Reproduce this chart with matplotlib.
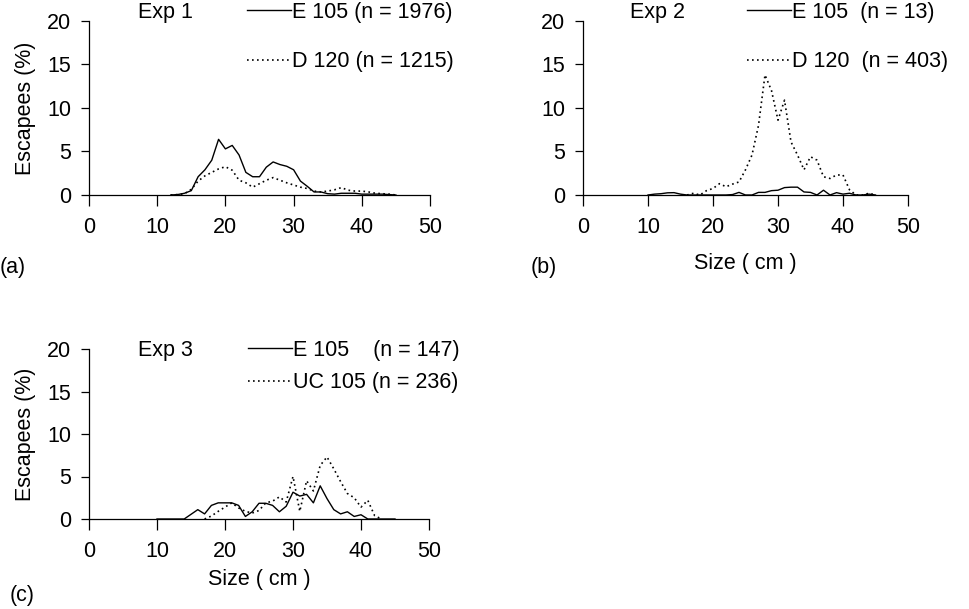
import matplotlib
matplotlib.use("Agg")
import matplotlib.pyplot as plt

plt.rcParams['font.family'] = ['Liberation Sans', 'DejaVu Sans']
plt.rcParams['font.size'] = 15.5

# size classes (cm) and escapee percentages per experiment
size_exp1 = list(range(12, 46))
exp1_e105 = [0, 0.05, 0.2, 0.5, 2.1, 2.9, 4.0, 6.4, 5.3, 5.7, 4.6, 2.6, 2.1, 2.1,
             3.2, 3.8, 3.5, 3.3, 2.9, 1.6, 1.0, 0.35, 0.35, 0.15, 0.1, 0.2, 0.2,
             0.2, 0.1, 0.1, 0.1, 0.1, 0.05, 0]
exp1_d120 = [0, 0.05, 0.15, 0.65, 1.6, 2.2, 2.6, 3.0, 3.25, 2.85, 1.7, 1.4, 0.9,
             1.3, 1.7, 2.0, 1.7, 1.4, 1.15, 0.9, 0.75, 0.45, 0.35, 0.45, 0.6,
             0.85, 0.55, 0.45, 0.45, 0.35, 0.2, 0.15, 0.1, 0]

size_exp2_e = list(range(10, 46))
exp2_e105 = [0, 0.1, 0.15, 0.25, 0.27, 0.1, 0, 0, 0, 0, 0, 0, 0, 0.05, 0.3, 0,
             0, 0.3, 0.3, 0.5, 0.55, 0.85, 0.9, 0.9, 0.35, 0.3, 0, 0.55, 0,
             0.27, 0.1, 0.2, 0, 0, 0.1, 0]
size_exp2_d = list(range(16, 46))
exp2_d120 = [0, 0.2, 0, 0.5, 0.75, 1.3, 0.95, 1.25, 1.5, 2.9, 4.6, 8.0, 13.8,
             12.0, 8.6, 10.9, 6.1, 4.6, 2.9, 4.4, 4.0, 2.1, 1.9, 2.3, 2.3, 0.6,
             0, 0, 0.2, 0]

size_exp3_e = list(range(10, 46))
exp3_e105 = [0, 0, 0, 0, 0, 0.55, 1.1, 0.6, 1.6, 1.9, 1.9, 1.9, 1.6, 0.3, 0.85,
             1.85, 1.85, 1.6, 0.85, 1.5, 3.15, 2.7, 2.9, 1.9, 3.9, 2.4, 1.1,
             0.6, 0.85, 0.3, 0.5, 0, 0, 0, 0, 0]
size_exp3_uc = list(range(17, 44))
exp3_uc105 = [0, 0.35, 0.9, 1.4, 1.9, 1.3, 0.9, 0.7, 1.0, 1.9, 2.1, 2.6, 2.0,
              5.0, 0.9, 4.5, 3.3, 6.3, 7.3, 5.9, 4.4, 3.0, 2.5, 1.4, 2.2, 0.4, 0]

W, H = 969, 609
fig = plt.figure(figsize=(W / 100, H / 100), dpi=100)


def px_axes(left, top, right, bottom):
    return fig.add_axes([left / W, 1 - bottom / H, (right - left) / W, (bottom - top) / H])


dots = (0, (1, 2))


def style(ax, exp_name, exp_y, labels, leg_x, leg_y, leg_gap, xlabel_pad=None, ylabel=False):
    ax.set_xlim(0, 50)
    ax.set_ylim(0, 20)
    ax.set_xticks(range(0, 51, 10))
    ax.set_yticks(range(0, 21, 5))
    for s in ['top', 'right']:
        ax.spines[s].set_visible(False)
    for s in ['left', 'bottom']:
        ax.spines[s].set_linewidth(0.9)
    ax.tick_params(axis='x', direction='out', length=8, width=0.9, pad=8)
    ax.tick_params(axis='y', direction='out', length=6, width=0.9, pad=7)
    ax.text(0.145, exp_y, exp_name, transform=ax.transAxes, ha='left', va='center')
    ax.legend(labels, loc='upper left', bbox_to_anchor=(leg_x, leg_y),
              frameon=False, handlelength=2.05, handletextpad=0.05,
              labelspacing=leg_gap, borderaxespad=0, borderpad=0)
    if xlabel_pad is not None:
        ax.set_xlabel('Size ( cm )', labelpad=xlabel_pad)
    if ylabel:
        ax.set_ylabel('Escapees (%)', labelpad=8)


# Exp 1
ax1 = px_axes(89, 21, 430, 195)
ax1.plot(size_exp1, exp1_e105, color='black', lw=1.0)
ax1.plot(size_exp1, exp1_d120, color='black', lw=1.2, linestyle=dots)
style(ax1, 'Exp 1', 1.046, ['E 105 (n = 1976)', 'D 120 (n = 1215)'],
      0.463, 1.109, 1.31, ylabel=True)

# Exp 2
ax2 = px_axes(583, 21, 908, 195)
ax2.plot(size_exp2_e, exp2_e105, color='black', lw=1.0)
ax2.plot(size_exp2_d, exp2_d120, color='black', lw=1.2, linestyle=dots)
style(ax2, 'Exp 2', 1.046, ['E 105  (n = 13)', 'D 120  (n = 403)'],
      0.505, 1.109, 1.31, xlabel_pad=11)

# Exp 3
ax3 = px_axes(89, 349, 429, 519)
ax3.plot(size_exp3_e, exp3_e105, color='black', lw=1.0)
ax3.plot(size_exp3_uc, exp3_uc105, color='black', lw=1.2, linestyle=dots)
style(ax3, 'Exp 3', 0.99, ['E 105    (n = 147)', 'UC 105 (n = 236)'],
      0.468, 1.053, 0.52, xlabel_pad=5, ylabel=True)

fig.text(0 / W, 1 - 267 / H, '(a)', ha='left', va='center')
fig.text(531 / W, 1 - 267 / H, '(b)', ha='left', va='center')
fig.text(10 / W, 1 - 595 / H, '(c)', ha='left', va='center')

fig.savefig('out.png', dpi=100)
